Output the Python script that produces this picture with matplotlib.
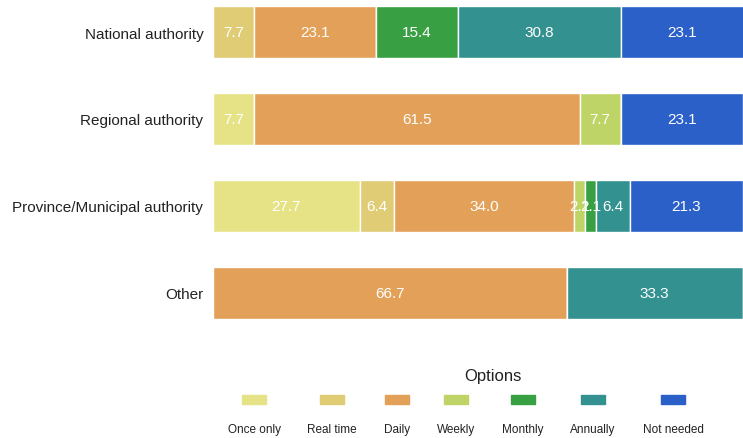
import matplotlib.pyplot as plt
import numpy as np
from matplotlib.patches import Rectangle

plt.rcParams['font.family'] = ['Liberation Sans', 'DejaVu Sans']

categories = ['National authority', 'Regional authority',
              'Province/Municipal authority', 'Other']
options = ['Once only', 'Real time', 'Daily', 'Weekly', 'Monthly', 'Annually', 'Not needed']
colors = ['#E5E385', '#E0CC75', '#E3A058', '#BFD466', '#38A043', '#339190', '#2A60C8']

once_only = [0, 7.7, 27.7, 0]
real_time = [7.7, 0, 6.4, 0]
daily = [23.1, 61.5, 34.0, 66.7]
weekly = [0, 7.7, 2.1, 0]
monthly = [15.4, 0, 2.1, 0]
annually = [30.8, 0, 6.4, 33.3]
not_needed = [23.1, 23.1, 21.3, 0]
series = [once_only, real_time, daily, weekly, monthly, annually, not_needed]

W, H = 743, 439
fig = plt.figure(figsize=(W / 100, H / 100), dpi=100)
ax = fig.add_axes([213 / W, 1 - 340 / H, 1 - 213 / W, 340 / H])

y = np.arange(len(categories))
left = np.zeros(len(categories))
for vals, c in zip(series, colors):
    vals = np.array(vals)
    ax.barh(y, vals, left=left, height=0.59, color=c, edgecolor='white', linewidth=1)
    for yi, l, v in zip(y, left, vals):
        if v > 0:
            ax.text(l + v / 2, yi, f'{v:.1f}', ha='center', va='center',
                    color='white', fontsize=11)
    left += vals

ax.set_xlim(0, 100)
ax.set_ylim(3.53, -0.38)
ax.set_yticks(y)
ax.set_yticklabels(categories, fontsize=11, color='#222222')
ax.set_xticks([])
ax.tick_params(axis='y', length=0, pad=7)
for s in ax.spines.values():
    s.set_visible(False)

# legend drawn underneath in pixel coordinates
leg = fig.add_axes([0, 0, 1, 1])
leg.set_xlim(0, W)
leg.set_ylim(H, 0)
leg.axis('off')
leg_x = [254, 332, 397, 456, 523, 593, 673]
leg.text(493, 377, 'Options', ha='center', va='center', fontsize=12, color='#222222')
for xc, lab, c in zip(leg_x, options, colors):
    leg.add_patch(Rectangle((xc - 12, 396), 24, 9, color=c))
    leg.text(xc, 430, lab, ha='center', va='center', fontsize=8.5, color='#222222')

fig.savefig('out.png', dpi=100)
